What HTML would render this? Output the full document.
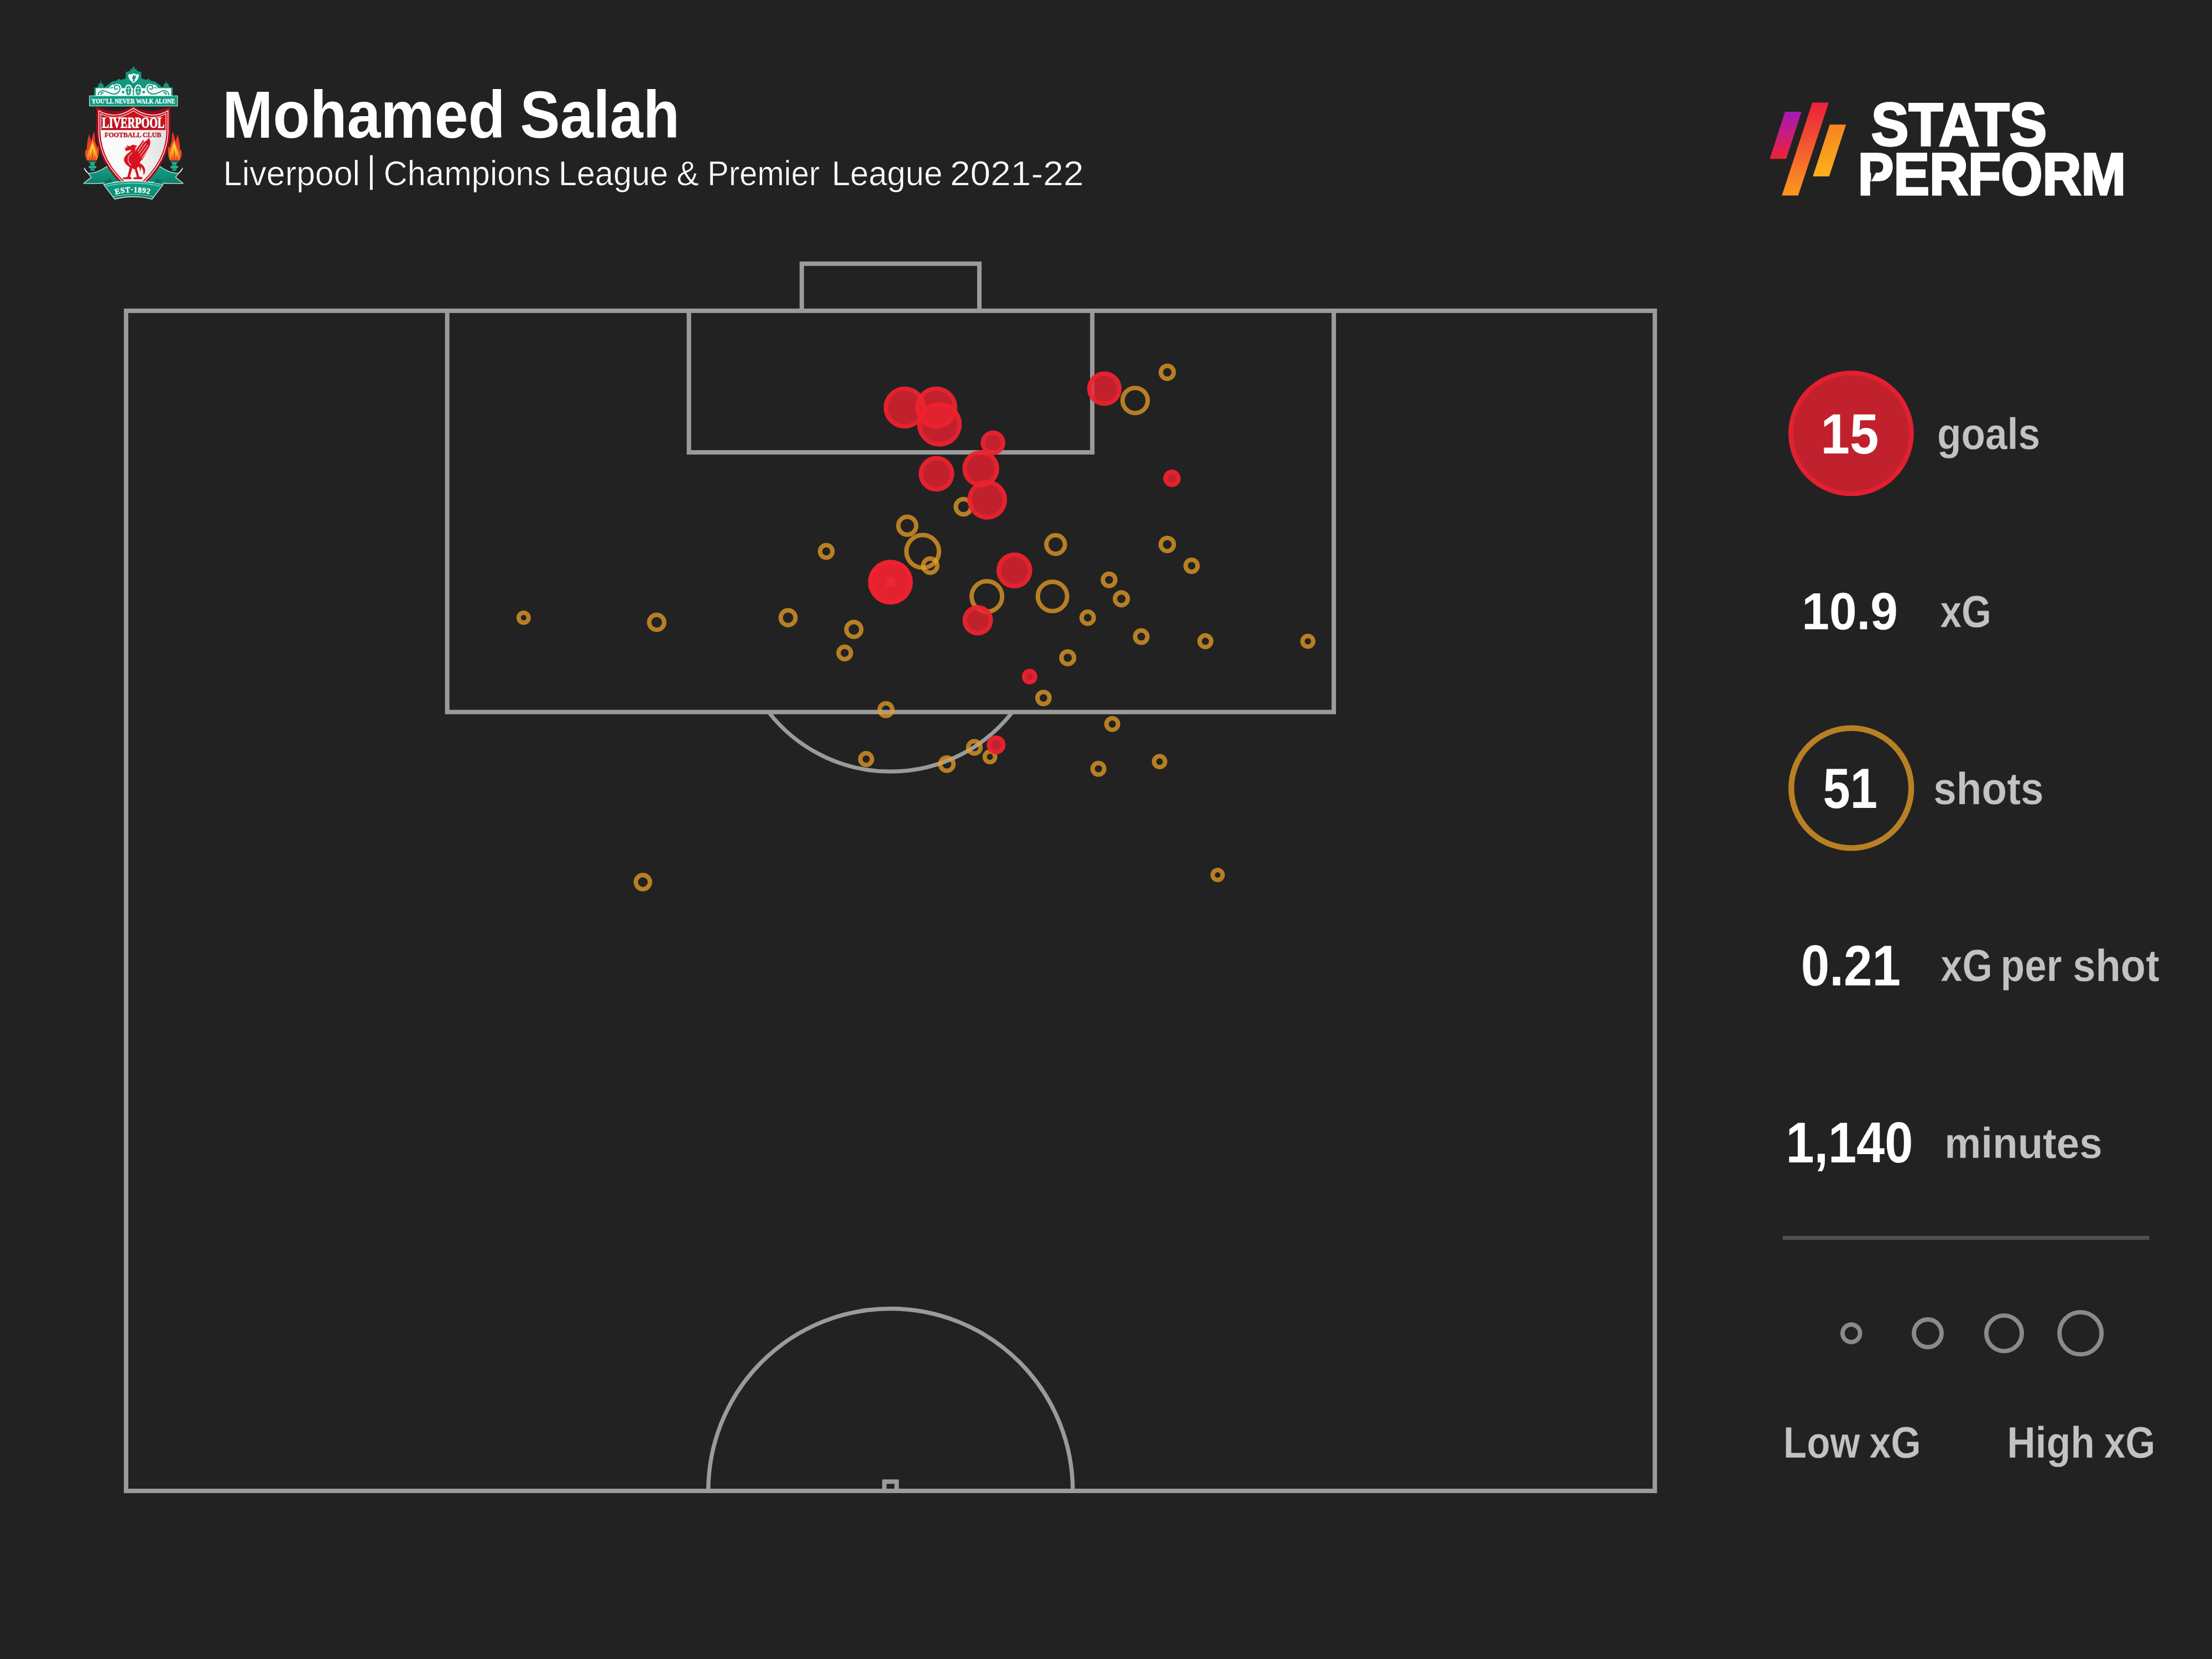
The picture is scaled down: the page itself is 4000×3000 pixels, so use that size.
<!DOCTYPE html>
<html lang="en">
<head>
<meta charset="utf-8">
<title>Mohamed Salah shot map</title>
<style>
  html, body { margin: 0; padding: 0; background: #222222; }
  body { width: 4000px; height: 3000px; overflow: hidden; }
  svg { display: block; }
  text { font-family: "Liberation Sans", sans-serif; }
  .b { font-weight: bold; }
  .sf { font-family: "Liberation Serif", serif; }
  .w { fill: #ffffff; }
  .g { fill: #c2c2c2; }
  .pitch * { fill: none; stroke: #9b9b9b; stroke-width: 8; }
  .shots circle { fill: none; stroke: #ea9f25; stroke-width: 8; stroke-opacity: 0.75; }
  .goals .f { fill: #ee2130; fill-opacity: 0.78; }
  .goals .r { fill: none; stroke: #ee2130; stroke-width: 8; stroke-opacity: 0.78; }
</style>
</head>
<body>
<svg width="4000" height="3000" viewBox="0 0 4000 3000">
<rect x="0" y="0" width="4000" height="3000" fill="#222222"/>

<!-- PITCH -->
<g class="pitch">
  <rect x="228" y="562" width="2764.5" height="2134"/>
  <rect x="808.7" y="562" width="1603.2" height="725.6"/>
  <rect x="1245.8" y="562" width="729.4" height="256"/>
  <rect x="1449.9" y="476.9" width="321.1" height="85.1"/>
  <path d="M1389.8 1287.6 A279.7 279.7 0 0 0 1830.8 1287.6" style="stroke-width:7.2"/>
  <path d="M1280.8 2696 A329.5 329.5 0 0 1 1939.9 2696" style="stroke-width:7.4"/>
  <path d="M1599.2 2696 V2679.2 H1621.4 V2696"/>
  <!-- penalty spot --><rect x="1601.8" y="1044.3" width="17" height="17" style="fill:#9b9b9b;stroke:none"/>
</g>

<!-- SHOTS -->
<g class="shots">
  <circle cx="946.9" cy="1117" r="9"/>
  <circle cx="1187.5" cy="1125.4" r="13.6"/>
  <circle cx="1425.1" cy="1117" r="13.4"/>
  <circle cx="1494.1" cy="997.1" r="11.3"/>
  <circle cx="1544" cy="1138.2" r="13.5"/>
  <circle cx="1527.5" cy="1180.7" r="11.2"/>
  <circle cx="1640.6" cy="950.7" r="16.2"/>
  <circle cx="1668.5" cy="997.1" r="29.5"/>
  <circle cx="1682.1" cy="1022.9" r="12.8"/>
  <circle cx="1742.3" cy="916.3" r="13.9"/>
  <circle cx="1784.6" cy="1078.5" r="27.6"/>
  <circle cx="1903.2" cy="1078.5" r="26.5"/>
  <circle cx="1908.9" cy="984.6" r="16.8"/>
  <circle cx="1966.9" cy="1117" r="11"/>
  <circle cx="1930.8" cy="1189.4" r="11.5"/>
  <circle cx="1886.9" cy="1262.1" r="10.9"/>
  <circle cx="1602.1" cy="1283.3" r="11.5"/>
  <circle cx="2005.6" cy="1048.6" r="11.2"/>
  <circle cx="2027.8" cy="1082.8" r="11.6"/>
  <circle cx="2063.7" cy="1151.2" r="11.1"/>
  <circle cx="2179.7" cy="1159.6" r="10.5"/>
  <circle cx="2365" cy="1159.6" r="9.7"/>
  <circle cx="2011.3" cy="1309.3" r="10.5"/>
  <circle cx="2110.8" cy="984.6" r="11.9"/>
  <circle cx="2154.8" cy="1023.1" r="10.9"/>
  <circle cx="2052.7" cy="724.2" r="22.7"/>
  <circle cx="2110.8" cy="673.2" r="11.7"/>
  <circle cx="1566.3" cy="1372.7" r="10.6"/>
  <circle cx="1712.2" cy="1381.8" r="12"/>
  <circle cx="1762" cy="1351.4" r="11.2"/>
  <circle cx="1790.1" cy="1368.6" r="9.5"/>
  <circle cx="1162.5" cy="1595.1" r="12.8"/>
  <circle cx="2201.9" cy="1582.3" r="9"/>
  <circle cx="1986.3" cy="1390.2" r="10.5"/>
  <circle cx="2096.9" cy="1377.2" r="10"/>
</g>

<!-- GOALS -->
<g class="goals">
  <circle class="f" cx="1636" cy="737" r="38"/><circle class="r" cx="1636" cy="737" r="34"/>
  <circle class="f" cx="1693" cy="737" r="38"/><circle class="r" cx="1693" cy="737" r="34"/>
  <circle class="f" cx="1698.8" cy="767.2" r="40.3"/><circle class="r" cx="1698.8" cy="767.2" r="36.3"/>
  <circle class="f" cx="1795.7" cy="800.7" r="22.2"/><circle class="r" cx="1795.7" cy="800.7" r="18.2"/>
  <circle class="f" cx="1693.4" cy="856.7" r="32.1"/><circle class="r" cx="1693.4" cy="856.7" r="28.1"/>
  <circle class="f" cx="1773.6" cy="847.5" r="33.2"/><circle class="r" cx="1773.6" cy="847.5" r="29.2"/>
  <circle class="f" cx="1785.2" cy="903.8" r="35.8"/><circle class="r" cx="1785.2" cy="903.8" r="31.8"/>
  <circle class="f" cx="1997.1" cy="702.8" r="31.1"/><circle class="r" cx="1997.1" cy="702.8" r="27.1"/>
  <circle class="f" cx="2119.2" cy="865" r="15.7"/><circle class="r" cx="2119.2" cy="865" r="11.7"/>
  <circle class="f" cx="1610.2" cy="1052.7" r="40.3"/><circle class="r" cx="1610.2" cy="1052.7" r="36.3"/>
  <circle class="f" cx="1610.2" cy="1052.7" r="40.3"/><circle class="r" cx="1610.2" cy="1052.7" r="36.3"/>
  <circle class="f" cx="1834.3" cy="1031.6" r="32.3"/><circle class="r" cx="1834.3" cy="1031.6" r="28.3"/>
  <circle class="f" cx="1768.1" cy="1121.6" r="27.4"/><circle class="r" cx="1768.1" cy="1121.6" r="23.4"/>
  <circle class="f" cx="1861.9" cy="1223.6" r="14"/><circle class="r" cx="1861.9" cy="1223.6" r="10"/>
  <circle class="f" cx="1801.3" cy="1347.1" r="17"/><circle class="r" cx="1801.3" cy="1347.1" r="13"/>
</g>

<!-- STATS PERFORM LOGO MARK -->
<defs>
  <linearGradient id="lg1" x1="0" y1="0" x2="0" y2="1"><stop offset="0" stop-color="#a418b8"/><stop offset="1" stop-color="#ee2238"/></linearGradient>
  <linearGradient id="lg2" x1="0" y1="0" x2="0" y2="1"><stop offset="0" stop-color="#ec1f3c"/><stop offset="1" stop-color="#fb9a1e"/></linearGradient>
  <linearGradient id="lg3" x1="0" y1="0" x2="0" y2="1"><stop offset="0" stop-color="#f5851f"/><stop offset="1" stop-color="#fdb11c"/></linearGradient>
</defs>
<g id="logo">
  <polygon points="3228,201.9 3257.8,201.9 3230,287.3 3200.2,287.3" fill="url(#lg1)"/>
  <polygon points="3277.2,185.6 3307,185.6 3251.7,353.5 3222.2,353.5" fill="url(#lg2)"/>
  <polygon points="3308.7,225.3 3338.2,225.3 3307.7,318.9 3278.2,318.9" fill="url(#lg3)"/>
</g>

<!-- STATS PANEL SHAPES -->
<g id="panel">
  <circle cx="3347.4" cy="783.7" r="109.2" fill="#c1212d" stroke="#e2202f" stroke-width="8.4"/>
  <circle cx="3347.7" cy="1425.1" r="108.5" fill="none" stroke="#b88024" stroke-width="10.4"/>
  <rect x="3223.6" y="2234.9" width="663.1" height="7.1" fill="#4f4f4f"/>
  <g fill="none" stroke="#8a8a8a" stroke-width="7.9">
    <circle cx="3347.7" cy="2411" r="15.8"/>
    <circle cx="3486" cy="2411" r="25"/>
    <circle cx="3624" cy="2411" r="32.1"/>
    <circle cx="3762.2" cy="2411" r="38.1"/>
  </g>
</g>

<!-- TEXT -->
<g id="labels">
  <text class="b w" x="402.37" y="248.80" font-size="120.20" textLength="511.28" lengthAdjust="spacingAndGlyphs">Mohamed</text>
  <text class="b w" x="940.62" y="248.80" font-size="120.20" textLength="288.42" lengthAdjust="spacingAndGlyphs">Salah</text>
  <text class="w" x="403.85" y="335.10" font-size="62.40" textLength="247.33" lengthAdjust="spacingAndGlyphs" stroke="#222222" stroke-width="0.7">Liverpool</text>
  <text class="w" x="664.41" y="329.40" font-size="66.00" textLength="13.87" lengthAdjust="spacingAndGlyphs" stroke="#ffffff" stroke-width="0.6" stroke-linejoin="miter" stroke-miterlimit="2.5">|</text>
  <text class="w" x="693.72" y="335.10" font-size="62.40" textLength="301.80" lengthAdjust="spacingAndGlyphs" stroke="#222222" stroke-width="0.7">Champions</text>
  <text class="w" x="1010.03" y="335.10" font-size="62.40" textLength="198.30" lengthAdjust="spacingAndGlyphs" stroke="#222222" stroke-width="0.7">League</text>
  <text class="w" x="1223.58" y="335.10" font-size="62.40" textLength="40.49" lengthAdjust="spacingAndGlyphs" stroke="#222222" stroke-width="0.7">&amp;</text>
  <text class="w" x="1279.19" y="335.10" font-size="62.40" textLength="203.11" lengthAdjust="spacingAndGlyphs" stroke="#222222" stroke-width="0.7">Premier</text>
  <text class="w" x="1503.88" y="335.10" font-size="62.40" textLength="200.48" lengthAdjust="spacingAndGlyphs" stroke="#222222" stroke-width="0.7">League</text>
  <text class="w" x="1718.02" y="335.10" font-size="62.40" textLength="241.50" lengthAdjust="spacingAndGlyphs" stroke="#222222" stroke-width="0.7">2021-22</text>
  <text class="b w" x="3383.87" y="262.50" font-size="108.81" textLength="317.68" lengthAdjust="spacingAndGlyphs" stroke="#ffffff" stroke-width="3.4" stroke-linejoin="miter" stroke-miterlimit="2.5">STATS</text>
  <text class="b w" x="3359.82" y="351.60" font-size="106.99" textLength="484.51" lengthAdjust="spacingAndGlyphs" stroke="#ffffff" stroke-width="3.4" stroke-linejoin="miter" stroke-miterlimit="2.5">PERFORM</text>
  <text class="b w" x="3292.51" y="820.00" font-size="102.15" textLength="104.79" lengthAdjust="spacingAndGlyphs">15</text>
  <text class="b g" x="3502.92" y="811.90" font-size="79.22" textLength="186.35" lengthAdjust="spacingAndGlyphs" stroke="#222222" stroke-width="0.4">goals</text>
  <text class="b w" x="3258.31" y="1137.90" font-size="93.67" textLength="173.70" lengthAdjust="spacingAndGlyphs">10.9</text>
  <text class="b g" x="3508.51" y="1133.50" font-size="81.74" textLength="92.54" lengthAdjust="spacingAndGlyphs" stroke="#222222" stroke-width="0.4">xG</text>
  <text class="b w" x="3296.60" y="1461.40" font-size="101.83" textLength="98.40" lengthAdjust="spacingAndGlyphs">51</text>
  <text class="b g" x="3496.29" y="1453.70" font-size="82.22" textLength="199.32" lengthAdjust="spacingAndGlyphs" stroke="#222222" stroke-width="0.4">shots</text>
  <text class="b w" x="3256.63" y="1781.90" font-size="103.34" textLength="180.30" lengthAdjust="spacingAndGlyphs">0.21</text>
  <text class="b g" x="3509.59" y="1774.40" font-size="81.00" textLength="93.20" lengthAdjust="spacingAndGlyphs" stroke="#222222" stroke-width="0.4">xG</text>
  <text class="b g" x="3617.77" y="1774.40" font-size="81.00" textLength="110.54" lengthAdjust="spacingAndGlyphs" stroke="#222222" stroke-width="0.4">per</text>
  <text class="b g" x="3748.37" y="1774.40" font-size="81.00" textLength="156.49" lengthAdjust="spacingAndGlyphs" stroke="#222222" stroke-width="0.4">shot</text>
  <text class="b w" x="3229.42" y="2102.00" font-size="103.85" textLength="229.82" lengthAdjust="spacingAndGlyphs">1,140</text>
  <text class="b g" x="3516.35" y="2093.60" font-size="77.17" textLength="285.31" lengthAdjust="spacingAndGlyphs" stroke="#222222" stroke-width="0.4">minutes</text>
  <text class="b g" x="3224.81" y="2636.40" font-size="79.10" textLength="138.72" lengthAdjust="spacingAndGlyphs" stroke="#222222" stroke-width="0.4">Low</text>
  <text class="b g" x="3380.47" y="2636.40" font-size="79.10" textLength="93.21" lengthAdjust="spacingAndGlyphs" stroke="#222222" stroke-width="0.4">xG</text>
  <text class="b g" x="3629.33" y="2636.40" font-size="79.10" textLength="158.55" lengthAdjust="spacingAndGlyphs" stroke="#222222" stroke-width="0.4">High</text>
  <text class="b g" x="3805.02" y="2636.40" font-size="79.10" textLength="92.45" lengthAdjust="spacingAndGlyphs" stroke="#222222" stroke-width="0.4">xG</text>
</g>

<!-- NOTCH in P -->
<polygon points="3383.4,311.5 3392.6,311.5 3383.4,328.6" fill="#222222"/>

<!-- CREST -->
<defs>
  <linearGradient id="cgreen" x1="0" y1="0" x2="0" y2="1"><stop offset="0" stop-color="#13a286"/><stop offset="1" stop-color="#0a806b"/></linearGradient>
  <linearGradient id="cfield" x1="0" y1="0" x2="1" y2="0"><stop offset="0" stop-color="#ffffff"/><stop offset="0.55" stop-color="#f6f6f6"/><stop offset="1" stop-color="#d9dddd"/></linearGradient>
  <linearGradient id="cflame" x1="0" y1="0" x2="0" y2="1"><stop offset="0" stop-color="#e3262a"/><stop offset="0.6" stop-color="#ee4b23"/><stop offset="1" stop-color="#e9551f"/></linearGradient>
  <linearGradient id="credf" x1="0" y1="0" x2="0" y2="1"><stop offset="0" stop-color="#b50d18"/><stop offset="0.5" stop-color="#cf111d"/><stop offset="1" stop-color="#c40f1b"/></linearGradient>
  <clipPath id="cshield"><path d="M182.3 205.5 Q210 221.5 241.2 200.2 Q272.4 221.5 300.1 205.5 L300 240 C298.5 277 279 312 241.2 341 C203.4 312 183.9 277 182.4 240 Z"/></clipPath>
  <g id="cside">
    <!-- ribbon tail (left; mirrored for right) -->
    <path d="M152.2 304.2 C154.5 309.5 157 312.5 160.5 313.2 C171 313.6 182 308.5 192.5 301.5 L214 303 L214 329 L200 330 C190 331.5 165 332.5 151.3 331.6 L165 320.6 Z" fill="url(#cgreen)" stroke="#d6f5ee" stroke-width="1.3" stroke-linejoin="round"/>
    <path d="M190 328 L200 322 L207 336 L196 340 Z" fill="#087260"/>
    <!-- torch -->
    <path d="M160 291.9 H174 L173 294.6 H171 L171.4 300.3 H174 V304.2 H171 V309 H163.4 V304.2 H160.4 V300.3 H163 L163.4 294.6 H161 Z" fill="#10997f"/>
    <path d="M163.4 296 H171 M160.4 302 H174" stroke="#7fd8c6" stroke-width="0.8" fill="none"/>
    <!-- flame -->
    <path d="M158 290.6 C153.5 284 153 277 155.2 269.5 L157 272.5 C156.8 262 158.5 252 161 243 C163 248 164.6 253 165 257.5 C166 249 167.8 243 170.2 237.8 C171.6 244 172.2 250 171.8 256 C173.8 259.5 175.2 263.5 175.6 268 L177.4 263.5 C179.6 272 178.8 283 175 290.6 Z" fill="url(#cflame)"/>
    <path d="M160.4 289.5 C158.4 282 160 275.5 162.4 270.5 C164.4 265 166.2 259.5 167.4 253.5 C169 260 171 265.5 172.4 270.5 C174.6 276 175.4 283 173.4 289.5 L170.8 280.5 L168.6 288.5 L167.2 275 L165.4 288.5 L163.2 280.5 Z" fill="#f78f1e" transform="translate(167.4 289.5) scale(1.18 1.06) translate(-167.4 -289.5)"/>
    <path d="M163.2 283 C163.4 275 165.6 267.5 167.4 260.5 C169 267.5 171.2 275 171.6 283 L169.4 275.5 L167.4 268 L165.4 275.5 Z" fill="#ffd83a" transform="translate(167.4 283) scale(1.35 1.12) translate(-167.4 -283)"/>
    <path d="M166.2 289 L167.4 274.5 L168.7 289 Z" fill="#e3342a"/>
  </g>
</defs>
<g id="crest">
  <use href="#cside"/>
  <use href="#cside" transform="translate(482.4,0) scale(-1,1)"/>

  <!-- shield -->
  <path d="M174.1 192.6 Q210.5 209.8 241.2 191.8 Q271.9 209.8 308.3 192.6 L308.2 240 C306.5 281 285 318 241.2 350.5 C197.4 318 175.9 281 174.2 240 Z" fill="#9c0c15"/>
  <path d="M178.6 200.2 Q209 218 241.2 195.6 Q273.4 218 303.8 200.2 L303.7 240 C302.1 279 282 314.5 241.2 345.2 C200.4 314.5 180.3 279 178.7 240 Z" fill="#c8101c" stroke="#fbeaea" stroke-width="1.5"/>
  <g clip-path="url(#cshield)">
    <rect x="170" y="190" width="142" height="45.2" fill="url(#credf)"/>
    <rect x="170" y="235.2" width="142" height="120" fill="url(#cfield)"/>
  </g>
  <path d="M182.3 205.5 Q210 221.5 241.2 200.2 Q272.4 221.5 300.1 205.5 L300 240 C298.5 277 279 312 241.2 341 C203.4 312 183.9 277 182.4 240 Z" fill="none" stroke="#fbeaea" stroke-width="1.3"/>

  <text x="185.3" y="231.9" class="sf" font-weight="bold" font-size="27" textLength="113" lengthAdjust="spacingAndGlyphs" fill="#8f0c14" stroke="#8f0c14" stroke-width="0.9">LIVERPOOL</text>
  <text x="184.6" y="231.2" class="sf" font-weight="bold" font-size="27" textLength="113" lengthAdjust="spacingAndGlyphs" fill="#ffffff" stroke="#ffffff" stroke-width="0.9">LIVERPOOL</text>
  <text x="189.1" y="247.6" class="sf" font-weight="bold" font-size="12.6" textLength="102.3" lengthAdjust="spacingAndGlyphs" fill="#bf1f2b" stroke="#bf1f2b" stroke-width="0.5">FOOTBALL CLUB</text>

  <!-- liver bird -->
  <path d="M241 261.9 L248.2 264 L244.8 266.6 C245 269.5 244 272.5 243.5 275 L247.2 268.9 L253.4 261.1 L259.1 253.1 L260.7 257.8 L269.7 250 L271.8 257.5 C271 263 268.5 269 266.4 273 L262.2 280.3 L258.1 287 L253.4 292.2 L252.4 295 C258 297.5 262.5 303 262.2 308.8 C262 312 261 314.5 259.6 316.1 C260.2 310 258 304 254 300.5 C255 303.5 255 306.5 253.9 309.3 C253.5 305.5 252 302.5 250 301 L247.2 304.2 L251.6 319.7 L257 320.6 V323.8 H241.5 V321.6 L248 319.9 L244 306.2 L239 304 L234.6 319.8 L237.3 320.8 V323.8 H222.3 V321.6 L230.8 319.9 L235 302 C230 299.5 226 295.5 224.6 290.7 C223.8 286.5 226 282 229.6 279 C232.5 276.5 235.5 274.5 236.8 273 L237.3 270.8 L231 271.8 L228.2 273.6 L227.6 271.6 L225.4 270 L228.6 268.6 L226 266.6 L230.8 266.6 L229.6 262.8 L233.4 264.8 L236.8 264 C238 262.6 239.5 261.8 241 261.9 Z" fill="#d5131e" stroke="#d5131e" stroke-width="0.5" stroke-linejoin="round"/>
  <path d="M249.3 273 L259.6 257 M251.3 277.2 L263.8 259.6 M253.9 281.8 L267.4 262.7 M256.5 286.5 L269.5 267.3 M238.6 276.6 C233.5 280.5 230.5 286 232 291.5 C233 294.5 235 297 237 298.5" stroke="#fbe3e3" stroke-width="1.1" fill="none" stroke-linecap="round"/>
  <!-- top gate ornament -->
  <path d="M170.4 174 V158.6 L176.8 157.6 L178.6 151.5 L181.2 151 L182.4 144.8 L183.6 151 L186.2 151.5 L188 157.4 L190 157.3 L203.2 147.2 L210 146.2 L214.6 142.4 L219 144.6 L227.4 141.4 L227.6 130.6 L233.4 128.8 L235.8 127.4 V124.6 H240 V120.2 H243 V124.6 H247.2 V127.4 L249.6 128.8 L255.4 130.6 L255.6 141.4 L264 144.6 L268.4 142.4 L273 146.2 L279.8 147.2 L293 157.3 L295 157.4 L296.8 151.5 L299.4 151 L300.6 144.8 L301.8 151 L304.4 151.5 L306.2 157.6 L312.6 158.6 V174 Z" fill="#10977d"/>
  <path d="M173.4 173.4 V159.4 H309.6 V173.4 Z" fill="#f3fbf9"/>
  <circle cx="212" cy="159.6" r="8.2" fill="#f3fbf9"/>
  <circle cx="271" cy="159.6" r="8.2" fill="#f3fbf9"/>
  <path d="M196 159.6 L203.5 152.6 L208 156 Z M286.800 159.6 L279.300 152.6 L274.800 156 Z" fill="#f3fbf9"/>
  <ellipse cx="232.4" cy="163.4" rx="7" ry="11" fill="#f3fbf9"/>
  <ellipse cx="250" cy="163.4" rx="7" ry="11" fill="#f3fbf9"/>
  <!-- scrollwork -->
  <g fill="none" stroke="#10977d" stroke-width="1.9" stroke-linecap="round">
    <path d="M177.6 171.4 C178.400 164.800 185 162.400 191 165 C197 167.600 202 171 208.500 169.800 C215.500 168.400 219 161 215.600 156.200 C212.800 152.600 207 153.800 206.800 158.200 C206.800 161.400 210.400 162.400 212 160.200"/>
    <path d="M305.400 171.400 C304.600 164.800 298 162.400 292 165 C286 167.600 281 171 274.500 169.800 C267.500 168.400 264 161 267.400 156.200 C270.200 152.600 276 153.800 276.200 158.200 C276.200 161.400 272.600 162.400 271 160.200"/>
    <path d="M182.600 171 C182 168 184.800 166.600 186.600 168.400 M300.400 171 C301 168 298.200 166.600 296.400 168.400"/>
  </g>
  <ellipse cx="232.4" cy="163.6" rx="4.9" ry="8.8" fill="#10977d"/>
  <ellipse cx="250" cy="163.6" rx="4.9" ry="8.8" fill="#10977d"/>
  <path d="M232.400 156.500 V170.700 M228.800 160.600 H236 M228.800 166.400 H236 M250 156.500 V170.700 M246.400 160.600 H253.600 M246.400 166.400 H253.600" stroke="#e9f8f4" stroke-width="1" fill="none"/>
  <rect x="240.300" y="150" width="1.9" height="24" fill="#10977d"/>
  <circle cx="222.600" cy="166.600" r="2.300" fill="#10977d"/>
  <circle cx="259.800" cy="166.600" r="2.300" fill="#10977d"/>
  <!-- mini shield -->
  <path d="M231.800 134.200 Q236.600 135.400 241.500 132.800 Q246.400 135.400 251.200 134.200 C251.400 141.500 247.500 146.800 241.500 150.200 C235.500 146.800 231.600 141.500 231.800 134.200 Z" fill="#f3fbf9"/>
  <path d="M240.200 136.200 L243.600 135.600 L242.400 138.400 L246.400 135.800 L245.400 141.200 L243.200 144 L243.800 147.200 L240 147.600 L240.800 144.200 C238.800 142.800 238.600 140.200 240.400 138.600 Z" fill="#10977d"/>

  <!-- motto banner -->
  <rect x="161.8" y="173.300" width="159.200" height="18.400" fill="#10997f" stroke="#c9efe7" stroke-width="1.1"/>
  <text x="165.800" y="187.300" class="sf" font-weight="bold" font-size="13" textLength="150.600" lengthAdjust="spacingAndGlyphs" fill="#f4fffc" stroke="#f4fffc" stroke-width="0.35">YOU'LL NEVER WALK ALONE</text>

  <!-- centre ribbon -->
  <path d="M187.600 334 C189.500 328.500 193.500 324.200 198.500 323.400 L203.500 333 Z" fill="#087260"/>
  <path d="M294.800 334 C292.900 328.500 288.900 324.200 283.900 323.400 L278.900 333 Z" fill="#087260"/>
  <path d="M187.400 333.800 C222 325.600 260.400 325.600 295 333.800 L275 360 C252 354.200 230.400 354.200 207.400 360 Z" fill="url(#cgreen)" stroke="#d6f5ee" stroke-width="1.3" stroke-linejoin="round"/>
  <path d="M192.600 336.600 C224 329.300 258.400 329.300 289.800 336.600 M205 355.600 C229 350.200 253.400 350.200 277.400 355.600" fill="none" stroke="#bfeee3" stroke-width="0.9"/>
  <path id="cestp" d="M207.600 352 C229 346.300 253.400 346.300 274.800 352" fill="none"/>
  <text class="sf" font-weight="bold" font-size="14.200" fill="#f4fffc" stroke="#f4fffc" stroke-width="0.4" letter-spacing="0.5"><textPath href="#cestp" startOffset="1" textLength="63" lengthAdjust="spacingAndGlyphs">EST·1892</textPath></text>
</g>

</svg>
</body>
</html>
